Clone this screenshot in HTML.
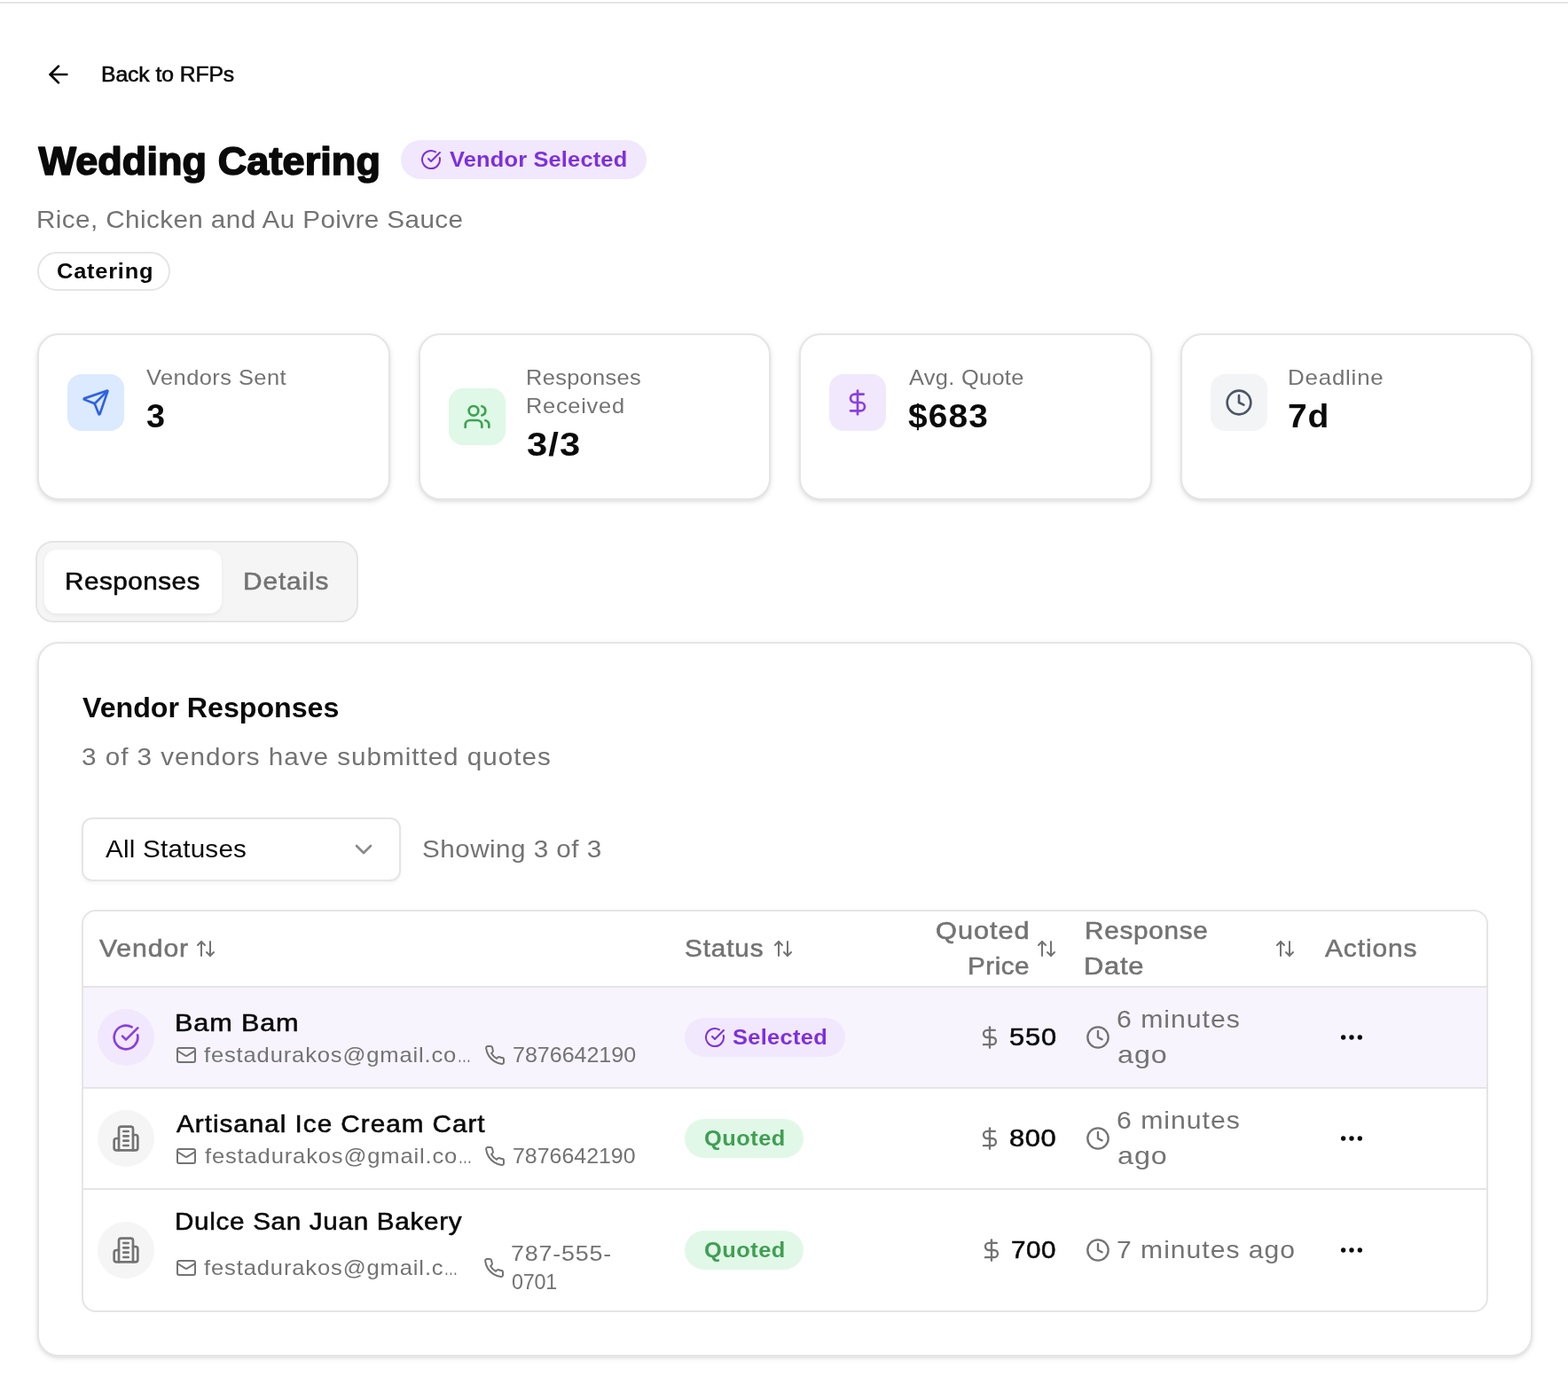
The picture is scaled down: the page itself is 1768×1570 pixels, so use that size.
<!DOCTYPE html>
<html lang="en">
<head>
<meta charset="utf-8">
<title>Wedding Catering – RFP</title>
<style>
*{box-sizing:border-box;margin:0;padding:0}
html,body{background:#fff}
body{width:1768px;height:1570px;overflow:hidden;position:relative;font-family:"Liberation Sans",sans-serif;color:#0a0a0a;font-size:28px;line-height:40px}
svg{display:block;flex:none;fill:none;stroke:currentColor;stroke-width:2;stroke-linecap:round;stroke-linejoin:round}
.muted{color:#737373}
.md{-webkit-text-stroke:.55px currentColor}
[id^="t-"]{position:relative;top:0px;display:inline-block;transform-origin:0 50%}
.ttl{overflow:visible;stroke:none}
.ttl text{font-family:"Liberation Sans",sans-serif;font-weight:700;font-size:45px;fill:#0a0a0a;stroke:#0a0a0a;stroke-width:1.7px;stroke-linejoin:round;stroke-linecap:round}
.topline{position:absolute;left:0;top:2px;width:1768px;height:2px;background:#e5e5e5}

/* back link */
.back{position:absolute;left:42px;top:52px;height:64px;display:flex;align-items:center;padding-left:8px;font-size:24px;line-height:32px;text-decoration:none;color:#0a0a0a}
.back svg{width:32px;height:32px;margin-right:32px}

/* heading */
.head{position:absolute;left:42px;top:148px;height:64px;display:flex;align-items:center}
.head h1{font-size:46px;line-height:64px;font-weight:700;white-space:nowrap;width:386px;margin-right:24px}
.badge{display:inline-flex;align-items:center;height:44px;border-radius:22px;padding:0 0 0 22px;font-size:24px;line-height:32px;font-weight:700;white-space:nowrap}
.badge svg{width:24px;height:24px;margin-right:8px}
.b-purple{background:#f1e8fd;color:#7e2fe0}
.b-green{background:#e1f8e8;color:#3f9f52}
.sub{position:absolute;left:42px;top:228px;font-size:28px;line-height:40px;white-space:nowrap}
.pill{position:absolute;left:42px;top:284px;width:150px;height:44px;border:2px solid #e5e5e5;border-radius:22px;padding:4px 20px;font-size:24px;line-height:32px;font-weight:700;white-space:nowrap}

/* stat cards */
.card{background:#fff;border:2px solid #e5e5e5;border-radius:24px;box-shadow:0 2px 6px rgba(0,0,0,.10),0 2px 4px -2px rgba(0,0,0,.10)}
.stat{position:absolute;top:376px;height:188px;padding:32px;display:flex;align-items:flex-start}
.stat .in{display:flex;align-items:center}
.tile{width:64px;height:64px;border-radius:16px;display:flex;align-items:center;justify-content:center;margin-right:24px}
.tile svg{width:32px;height:32px}
.stat .lbl{font-size:24px;line-height:32px;white-space:nowrap}
.stat .val{font-size:36px;line-height:56px;font-weight:700;white-space:nowrap}

/* tabs */
.tabs{position:absolute;left:40px;top:610px;width:364px;height:92px;border:2px solid #e5e5e5;border-radius:20px;background:#f5f5f5;padding:8px;display:flex}
.tab{height:72px;border-radius:14px;padding:0 24px;display:flex;align-items:center;justify-content:center;font-size:28px;line-height:40px;white-space:nowrap}
.tab.on{width:200px;background:#fff;box-shadow:0 2px 4px rgba(0,0,0,.06)}
.tab+.tab{width:144px}

/* main panel */
.panel{position:absolute;left:42px;top:724px;width:1686px;height:806px;padding:48px}
.panel h2{font-size:32px;line-height:48px;font-weight:700;white-space:nowrap}
.panel .desc{margin-top:12px;font-size:28px;line-height:40px;white-space:nowrap}
.filter{margin-top:48px;height:72px;display:flex;align-items:center;white-space:nowrap}
.select{width:360px;height:72px;border:2px solid #e5e5e5;border-radius:12px;padding:0 24px;display:flex;align-items:center;justify-content:space-between;margin-right:24px;box-shadow:0 2px 4px rgba(0,0,0,.05)}
.select svg{width:32px;height:32px;color:#8a8a8a}
.table{margin-top:32px;width:1586px;height:454px;border:2px solid #e5e5e5;border-radius:16px;overflow:hidden}
.tr{display:flex;box-sizing:content-box;border-bottom:2px solid #e5e5e5}
.tr:last-child{border-bottom:0}
.th{height:84px}
.td{display:flex;align-items:center;padding:0 16px;height:100%;white-space:nowrap}
.c1{width:662px}.c2{width:284px}.c3{width:167px;justify-content:flex-end}.c4{width:270px}.c5{width:199px}
.th .c4{justify-content:space-between}
.r{text-align:right}
.sort{width:24px;height:24px;margin-left:8px}
.i24{width:24px;height:24px;margin-right:8px}
.i28{width:28px;height:28px;margin-right:8px}
.selrow{background:#f7f4fe}
.av{width:64px;height:64px;border-radius:50%;background:#f5f5f5;color:#737373;display:flex;align-items:center;justify-content:center;margin-right:24px;flex:none}
.av svg{width:32px;height:32px}
.av.sel{background:#f1e8fd;color:#8a3ee2}
.nm{font-size:28px;line-height:40px}
.ct{display:flex;align-items:center;font-size:24px;line-height:32px}
.em,.ph{display:flex;align-items:center}
.ph2{display:block}
.em{width:332px;margin-right:16px}
.tr:last-child .em{width:331px}
.el{display:inline-block;letter-spacing:0;transform:scaleX(.62);transform-origin:0 50%;margin-right:-9px}
.more{width:64px;height:64px;border:0;background:transparent;display:flex;align-items:center;justify-content:center;color:#0a0a0a}
.more svg{width:32px;height:32px;position:relative;left:-1px}
.c4 .i28{margin-left:1px;margin-right:7px}
.th .td{position:relative}
.th .c1 .sort,.th .c2 .sort{position:absolute;top:30px;margin:0}
.th .c1 .sort{left:126px}
.th .c2 .sort{left:115px}
.th .c3 .sort{position:relative;left:1px}
</style>
</head>
<body>
<div class="topline"></div>

<a class="back">
  <svg viewBox="0 0 24 24"><path d="m12 19-7-7 7-7"/><path d="M19 12H5"/></svg>
  <span id="t-back" class="md" style="letter-spacing:-0.08px;margin-right:4.46px;left:-0.4px;transform:scaleX(1.030)">Back to RFPs</span>
</a>

<header class="head">
  <h1><svg class="ttl" width="386" height="64" viewBox="0 0 386 64" role="img" aria-label="Wedding Catering"><text x="1.4" y="49.1" textLength="385.5" lengthAdjust="spacing">Wedding Catering</text></svg></h1>
  <span class="badge b-purple" style="width:277px"><svg viewBox="0 0 24 24"><path d="M21.801 10A10 10 0 1 1 17 3.335"/><path d="m9 11 3 3L22 4"/></svg><span id="t-vs" style="letter-spacing:0.15px;margin-right:11.18px;left:1.0px;transform:scaleX(1.060)">Vendor Selected</span></span>
</header>
<p class="sub muted"><span id="t-sub" style="letter-spacing:0.37px;margin-right:26.86px;left:-1.2px;transform:scaleX(1.060)">Rice, Chicken and Au Poivre Sauce</span></p>
<span class="pill"><span id="t-pill" style="letter-spacing:0.72px;margin-right:5.42px;left:-0.5px;transform:scaleX(1.060)">Catering</span></span>

<section class="stats">
  <div class="card stat" style="left:42px;width:398px"><div class="in">
    <div class="tile" style="background:#dbeafe;color:#2f62e6"><svg viewBox="0 0 24 24"><path d="M14.536 21.686a.5.5 0 0 0 .937-.024l6.5-19a.496.496 0 0 0-.635-.635l-19 6.5a.5.5 0 0 0-.024.937l7.93 3.18a2 2 0 0 1 1.112 1.11z"/><path d="m21.854 2.147-10.94 10.939"/></svg></div>
    <div><p class="lbl muted"><span id="t-l1" style="letter-spacing:0.41px;margin-right:8.51px;left:1.0px;transform:scaleX(1.060)">Vendors Sent</span></p><p class="val"><span id="t-v1" style="margin-right:1.04px;left:0.5px;transform:scaleX(1.052)">3</span></p></div>
  </div></div>
  <div class="card stat" style="left:472px;width:397px"><div class="in">
    <div class="tile" style="background:#dff8e7;color:#3da351"><svg viewBox="0 0 24 24"><path d="M16 21v-2a4 4 0 0 0-4-4H6a4 4 0 0 0-4 4v2"/><circle cx="9" cy="7" r="4"/><path d="M22 21v-2a4 4 0 0 0-3-3.87"/><path d="M16 3.13a4 4 0 0 1 0 7.75"/></svg></div>
    <div><p class="lbl muted"><span id="t-l2a" style="letter-spacing:0.29px;margin-right:7.05px;left:-1.0px;transform:scaleX(1.060)">Responses</span><br><span id="t-l2b" style="letter-spacing:0.67px;margin-right:5.62px;left:-1.5px;transform:scaleX(1.060)">Received</span></p><p class="val"><span id="t-v2" style="letter-spacing:0.92px;margin-right:7.38px;left:0.1px;transform:scaleX(1.160)">3/3</span></p></div>
  </div></div>
  <div class="card stat" style="left:901px;width:398px"><div class="in">
    <div class="tile" style="background:#f1e8fd;color:#8a3ee2"><svg viewBox="0 0 24 24"><line x1="12" x2="12" y1="2" y2="22"/><path d="M17 5H9.5a3.5 3.5 0 0 0 0 7h5a3.5 3.5 0 0 1 0 7H6"/></svg></div>
    <div><p class="lbl muted"><span id="t-l3" style="letter-spacing:0.26px;margin-right:7.06px;left:1.9px;transform:scaleX(1.060)">Avg. Quote</span></p><p class="val"><span id="t-v3" style="letter-spacing:1.05px;margin-right:5.61px;left:1.3px;transform:scaleX(1.080)">$683</span></p></div>
  </div></div>
  <div class="card stat" style="left:1331px;width:397px"><div class="in">
    <div class="tile" style="background:#f3f4f6;color:#4b5563"><svg viewBox="0 0 24 24"><circle cx="12" cy="12" r="10"/><polyline points="12 6 12 12 16 14"/></svg></div>
    <div><p class="lbl muted"><span id="t-l4" style="letter-spacing:0.72px;margin-right:7.26px;left:-1.5px;transform:scaleX(1.080)">Deadline</span></p><p class="val"><span id="t-v4" style="letter-spacing:0.64px;margin-right:2.99px;left:-1.4px;transform:scaleX(1.085)">7d</span></p></div>
  </div></div>
</section>
<nav class="tabs">
  <div class="tab on"><span id="t-tab1" class="md" style="letter-spacing:0.46px;margin-right:8.17px;left:-0.6px;transform:scaleX(1.060)">Responses</span></div>
  <div class="tab muted"><span id="t-tab2" class="md" style="letter-spacing:0.84px;margin-right:5.05px;left:0.3px;transform:scaleX(1.065)">Details</span></div>
</nav>
<section class="card panel">
  <h2><span id="t-ptitle" style="letter-spacing:-0.05px;margin-right:2.06px;left:0.5px;transform:scaleX(1.007)">Vendor Responses</span></h2>
  <p class="desc muted"><span id="t-pdesc" style="letter-spacing:0.91px;margin-right:29.02px;left:-0.3px;transform:scaleX(1.060)">3 of 3 vendors have submitted quotes</span></p>
  <div class="filter">
    <div class="select"><span id="t-sel" style="letter-spacing:0.19px;margin-right:8.81px;left:1.3px;transform:scaleX(1.060)">All Statuses</span><svg viewBox="0 0 24 24"><path d="m6 9 6 6 6-6"/></svg></div>
    <span class="muted"><span id="t-show" style="letter-spacing:0.42px;margin-right:11.02px;left:-0.1px;transform:scaleX(1.060)">Showing 3 of 3</span></span>
  </div>
  <div class="table">
    <div class="tr th muted">
      <div class="td c1"><span id="t-h1" class="md" style="letter-spacing:0.80px;margin-right:6.62px;left:1.8px;transform:scaleX(1.080)">Vendor</span><svg class="sort" viewBox="0 0 24 24"><path d="m21 16-4 4-4-4"/><path d="M17 20V4"/><path d="m3 8 4-4 4 4"/><path d="M7 4v16"/></svg></div>
      <div class="td c2"><span id="t-h2" class="md" style="letter-spacing:0.82px;margin-right:4.19px;left:-0.4px;transform:scaleX(1.060)">Status</span><svg class="sort" viewBox="0 0 24 24"><path d="m21 16-4 4-4-4"/><path d="M17 20V4"/><path d="m3 8 4-4 4 4"/><path d="M7 4v16"/></svg></div>
      <div class="td c3"><p class="r"><span id="t-h3a" class="md" style="letter-spacing:0.85px;margin-right:8.76px;left:2.1px;transform:scaleX(1.100)">Quoted</span><br><span id="t-h3b" class="md" style="letter-spacing:0.47px;margin-right:3.47px;left:1.6px;transform:scaleX(1.060)">Price</span></p><svg class="sort" viewBox="0 0 24 24"><path d="m21 16-4 4-4-4"/><path d="M17 20V4"/><path d="m3 8 4-4 4 4"/><path d="M7 4v16"/></svg></div>
      <div class="td c4"><p><span id="t-h4a" class="md" style="letter-spacing:0.69px;margin-right:7.17px;left:-0.2px;transform:scaleX(1.060)">Response</span><br><span id="t-h4b" class="md" style="letter-spacing:0.64px;margin-right:5.77px;left:-0.6px;transform:scaleX(1.105)">Date</span></p><svg class="sort" viewBox="0 0 24 24"><path d="m21 16-4 4-4-4"/><path d="M17 20V4"/><path d="m3 8 4-4 4 4"/><path d="M7 4v16"/></svg></div>
      <div class="td c5"><span id="t-h5" class="md" style="letter-spacing:0.83px;margin-right:5.95px;left:0.8px;transform:scaleX(1.070)">Actions</span></div>
    </div>
    <div class="tr selrow" style="height:112px">
      <div class="td c1"><div class="av sel"><svg viewBox="0 0 24 24"><path d="M21.801 10A10 10 0 1 1 17 3.335"/><path d="m9 11 3 3L22 4"/></svg></div>
        <div class="who"><p class="nm"><span id="t-n1" class="md" style="letter-spacing:0.77px;margin-right:11.35px;left:-1.4px;transform:scaleX(1.095)">Bam Bam</span></p>
          <div class="ct muted"><span class="em"><svg class="i24" viewBox="0 0 24 24"><rect width="20" height="16" x="2" y="4" rx="2"/><path d="m22 7-8.97 5.7a1.94 1.94 0 0 1-2.06 0L2 7"/></svg><span id="t-e1" style="letter-spacing:0.79px;margin-right:17.59px;left:0.4px;transform:scaleX(1.065)">festadurakos@gmail.co<span class="el">…</span></span></span><span class="ph"><svg class="i24" viewBox="0 0 24 24"><path d="M22 16.92v3a2 2 0 0 1-2.18 2 19.79 19.79 0 0 1-8.63-3.07 19.5 19.5 0 0 1-6-6 19.79 19.79 0 0 1-3.07-8.67A2 2 0 0 1 4.11 2h3a2 2 0 0 1 2 1.72 12.84 12.84 0 0 0 .7 2.81 2 2 0 0 1-.45 2.11L8.09 9.91a16 16 0 0 0 6 6l1.27-1.27a2 2 0 0 1 2.11-.45 12.84 12.84 0 0 0 2.81.7A2 2 0 0 1 22 16.92z"/></svg><span id="t-p1" style="letter-spacing:-0.05px;margin-right:6.17px;left:-0.5px;transform:scaleX(1.046)">7876642190</span></span></div></div></div>
      <div class="td c2"><span class="badge b-purple" style="width:181px"><svg viewBox="0 0 24 24"><path d="M21.801 10A10 10 0 1 1 17 3.335"/><path d="m9 11 3 3L22 4"/></svg><span id="t-s1" style="letter-spacing:0.28px;margin-right:5.76px;left:-0.1px;transform:scaleX(1.060)">Selected</span></span></div>
      <div class="td c3"><span class="muted"><svg class="i28" viewBox="0 0 24 24"><line x1="12" x2="12" y1="2" y2="22"/><path d="M17 5H9.5a3.5 3.5 0 0 0 0 7h5a3.5 3.5 0 0 1 0 7H6"/></svg></span><span id="t-q1" class="md" style="letter-spacing:0.77px;margin-right:4.06px;transform:scaleX(1.100)">550</span></div>
      <div class="td c4 muted"><svg class="i28" viewBox="0 0 24 24"><circle cx="12" cy="12" r="10"/><polyline points="12 6 12 12 16 14"/></svg><p><span id="t-d1a" style="letter-spacing:0.90px;margin-right:9.39px;left:0.4px;transform:scaleX(1.080)">6 minutes</span><br><span id="t-d1b" style="letter-spacing:0.79px;margin-right:6.70px;left:0.5px;transform:scaleX(1.155)">ago</span></p></div>
      <div class="td c5"><button class="more" aria-label="Open menu"><svg viewBox="0 0 24 24"><circle cx="12" cy="12" r="1"/><circle cx="19" cy="12" r="1"/><circle cx="5" cy="12" r="1"/></svg></button></div>
    </div>
    <div class="tr" style="height:112px">
      <div class="td c1"><div class="av"><svg viewBox="0 0 24 24"><path d="M6 22V4a2 2 0 0 1 2-2h8a2 2 0 0 1 2 2v18Z"/><path d="M6 12H4a2 2 0 0 0-2 2v6a2 2 0 0 0 2 2h2"/><path d="M18 9h2a2 2 0 0 1 2 2v9a2 2 0 0 1-2 2h-2"/><path d="M10 6h4"/><path d="M10 10h4"/><path d="M10 14h4"/><path d="M10 18h4"/></svg></div>
        <div class="who"><p class="nm"><span id="t-n2" class="md" style="letter-spacing:0.93px;margin-right:18.75px;left:1.3px;transform:scaleX(1.060)">Artisanal Ice Cream Cart</span></p>
          <div class="ct muted"><span class="em"><svg class="i24" viewBox="0 0 24 24"><rect width="20" height="16" x="2" y="4" rx="2"/><path d="m22 7-8.97 5.7a1.94 1.94 0 0 1-2.06 0L2 7"/></svg><span id="t-e2" style="letter-spacing:0.79px;margin-right:17.59px;left:0.6px;transform:scaleX(1.065)">festadurakos@gmail.co<span class="el">…</span></span></span><span class="ph"><svg class="i24" viewBox="0 0 24 24"><path d="M22 16.92v3a2 2 0 0 1-2.18 2 19.79 19.79 0 0 1-8.63-3.07 19.5 19.5 0 0 1-6-6 19.79 19.79 0 0 1-3.07-8.67A2 2 0 0 1 4.11 2h3a2 2 0 0 1 2 1.72 12.84 12.84 0 0 0 .7 2.81 2 2 0 0 1-.45 2.11L8.09 9.91a16 16 0 0 0 6 6l1.27-1.27a2 2 0 0 1 2.11-.45 12.84 12.84 0 0 0 2.81.7A2 2 0 0 1 22 16.92z"/></svg><span id="t-p2" style="letter-spacing:-0.01px;margin-right:5.21px;left:0.4px;transform:scaleX(1.039)">7876642190</span></span></div></div></div>
      <div class="td c2"><span class="badge b-green" style="width:134px"><span id="t-s2" style="letter-spacing:0.44px;margin-right:4.73px;left:-0.5px;transform:scaleX(1.060)">Quoted</span></span></div>
      <div class="td c3"><span class="muted"><svg class="i28" viewBox="0 0 24 24"><line x1="12" x2="12" y1="2" y2="22"/><path d="M17 5H9.5a3.5 3.5 0 0 0 0 7h5a3.5 3.5 0 0 1 0 7H6"/></svg></span><span id="t-q2" class="md" style="letter-spacing:0.44px;margin-right:4.56px;left:-0.1px;transform:scaleX(1.105)">800</span></div>
      <div class="td c4 muted"><svg class="i28" viewBox="0 0 24 24"><circle cx="12" cy="12" r="10"/><polyline points="12 6 12 12 16 14"/></svg><p><span id="t-d2a" style="letter-spacing:0.90px;margin-right:9.39px;left:0.4px;transform:scaleX(1.080)">6 minutes</span><br><span id="t-d2b" style="letter-spacing:0.78px;margin-right:6.70px;left:0.5px;transform:scaleX(1.155)">ago</span></p></div>
      <div class="td c5"><button class="more" aria-label="Open menu"><svg viewBox="0 0 24 24"><circle cx="12" cy="12" r="1"/><circle cx="19" cy="12" r="1"/><circle cx="5" cy="12" r="1"/></svg></button></div>
    </div>
    <div class="tr" style="height:136px">
      <div class="td c1"><div class="av"><svg viewBox="0 0 24 24"><path d="M6 22V4a2 2 0 0 1 2-2h8a2 2 0 0 1 2 2v18Z"/><path d="M6 12H4a2 2 0 0 0-2 2v6a2 2 0 0 0 2 2h2"/><path d="M18 9h2a2 2 0 0 1 2 2v9a2 2 0 0 1-2 2h-2"/><path d="M10 6h4"/><path d="M10 10h4"/><path d="M10 14h4"/><path d="M10 18h4"/></svg></div>
        <div class="who"><p class="nm"><span id="t-n3" class="md" style="letter-spacing:0.63px;margin-right:17.68px;left:-0.7px;transform:scaleX(1.060)">Dulce San Juan Bakery</span></p>
          <div class="ct muted"><span class="em"><svg class="i24" viewBox="0 0 24 24"><rect width="20" height="16" x="2" y="4" rx="2"/><path d="m22 7-8.97 5.7a1.94 1.94 0 0 1-2.06 0L2 7"/></svg><span id="t-e3" style="letter-spacing:0.81px;margin-right:16.68px;left:0.3px;transform:scaleX(1.065)">festadurakos@gmail.c<span class="el">…</span></span></span><span class="ph"><svg class="i24" viewBox="0 0 24 24"><path d="M22 16.92v3a2 2 0 0 1-2.18 2 19.79 19.79 0 0 1-8.63-3.07 19.5 19.5 0 0 1-6-6 19.79 19.79 0 0 1-3.07-8.67A2 2 0 0 1 4.11 2h3a2 2 0 0 1 2 1.72 12.84 12.84 0 0 0 .7 2.81 2 2 0 0 1-.45 2.11L8.09 9.91a16 16 0 0 0 6 6l1.27-1.27a2 2 0 0 1 2.11-.45 12.84 12.84 0 0 0 2.81.7A2 2 0 0 1 22 16.92z"/></svg><span class="ph2"><span id="t-p3a" style="letter-spacing:0.71px;margin-right:11.42px;left:-0.9px;transform:scaleX(1.120)">787-555-</span><br><span id="t-p3b" style="letter-spacing:-0.29px;margin-right:-1.02px;left:-0.5px;transform:scaleX(0.975)">0701</span></span></span></div></div></div>
      <div class="td c2"><span class="badge b-green" style="width:134px"><span id="t-s3" style="letter-spacing:0.44px;margin-right:4.73px;left:-0.5px;transform:scaleX(1.060)">Quoted</span></span></div>
      <div class="td c3"><span class="muted"><svg class="i28" viewBox="0 0 24 24"><line x1="12" x2="12" y1="2" y2="22"/><path d="M17 5H9.5a3.5 3.5 0 0 0 0 7h5a3.5 3.5 0 0 1 0 7H6"/></svg></span><span id="t-q3" class="md" style="letter-spacing:0.47px;margin-right:2.39px;left:-0.1px;transform:scaleX(1.060)">700</span></div>
      <div class="td c4 muted"><svg class="i28" viewBox="0 0 24 24"><circle cx="12" cy="12" r="10"/><polyline points="12 6 12 12 16 14"/></svg><p><span id="t-d3" style="letter-spacing:0.93px;margin-right:13.10px;left:-0.3px;transform:scaleX(1.075)">7 minutes ago</span></p></div>
      <div class="td c5"><button class="more" aria-label="Open menu"><svg viewBox="0 0 24 24"><circle cx="12" cy="12" r="1"/><circle cx="19" cy="12" r="1"/><circle cx="5" cy="12" r="1"/></svg></button></div>
    </div>
  </div>
</section>
</body>
</html>
